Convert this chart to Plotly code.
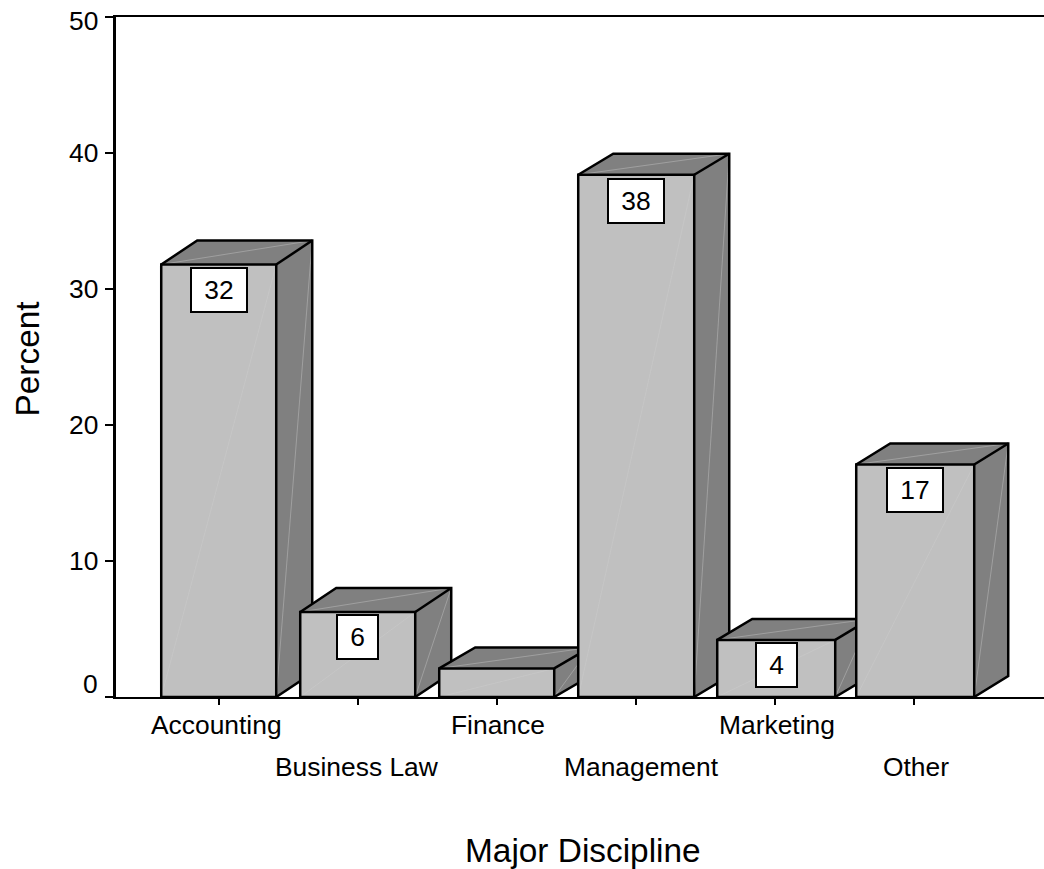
import plotly.graph_objects as go

# ---- data ----
categories = ["Accounting", "Business Law", "Finance", "Management", "Marketing", "Other"]
percent = [31.8, 6.25, 2.1, 38.4, 4.2, 17.1]
bar_labels = ["32", "6", None, "38", "4", "17"]
y_tick_values = [0, 10, 20, 30, 40, 50]
y_axis_title = "Percent"
x_axis_title = "Major Discipline"

# ---- style ----
W, H = 1044, 869
L, R, T, B = 116, 0, 17, 172
PX_X = 139.0
PX_Y = (H - T - B) / 50.0
X0 = -(218.5 - L) / PX_X
X1 = (W - 218.5) / PX_X
FRONT, DARK, DIAG = "#C0C0C0", "#808080", "#D0D0D0"
FONT = "Liberation Sans"
TICK_SIZE = 26.4
TITLE_SIZE = 33.4
BAR_PX = [115, 115, 115, 116, 118, 118]
DEPTH_X_PX = [36, 36, 36, 35, 35, 34]
DEPTH_Y_PX = [24, 24, 21, 21, 21, 21]
BOX_SHIFT_PX = [-2, -2, 0, -3, -2, -3]
LEFT_OFFSET = -0.412


def poly(fig, xs, ys, color):
    fig.add_trace(go.Scatter(x=xs + xs[:1], y=ys + ys[:1], mode="lines", fill="toself",
                             fillcolor=color, line=dict(width=0), hoverinfo="skip", showlegend=False))


fig = go.Figure()
for i, (name, v) in enumerate(zip(categories, percent)):
    x0 = i + LEFT_OFFSET
    x1 = x0 + BAR_PX[i] / PX_X
    dx = DEPTH_X_PX[i] / PX_X
    dy = DEPTH_Y_PX[i] / PX_Y
    poly(fig, [x1, x1 + dx, x1 + dx, x1], [0, dy, v + dy, v], DARK)
    poly(fig, [x0, x1, x1 + dx, x0 + dx], [v, v, v + dy, v + dy], DARK)
    poly(fig, [x0, x1, x1, x0], [0, 0, v, v], FRONT)
    # faint facet seams
    fig.add_trace(go.Scatter(
        x=[x0, x1, None, x1, x1 + dx, None, x0, x1 + dx],
        y=[0, v, None, 0, v + dy, None, v, v + dy],
        mode="lines", line=dict(color=DIAG, width=0.4), hoverinfo="skip", showlegend=False))
    # outlines
    fig.add_trace(go.Scatter(
        x=[x0, x0, x1, x1, x0, None, x0, x0 + dx, x1 + dx, x1 + dx, x1, None, x1, x1 + dx],
        y=[0, v, v, 0, 0, None, v, v + dy, v + dy, dy, 0, None, v, v + dy],
        mode="lines", line=dict(color="black", width=2.5), name=name, showlegend=False,
        hovertemplate=f"{name}: {v}<extra></extra>"))

annotations = []
# value boxes
for i, (v, lab) in enumerate(zip(percent, bar_labels)):
    if lab is None:
        continue
    bw = 54 if len(lab) == 2 else 39
    annotations.append(dict(
        x=i + LEFT_OFFSET + BAR_PX[i] / PX_X / 2, y=v, xref="x", yref="y", yshift=BOX_SHIFT_PX[i],
        yanchor="top", xanchor="center", text=lab, showarrow=False,
        width=bw, height=42, bgcolor="white", bordercolor="black", borderwidth=2, borderpad=0,
        align="center", valign="middle", font=dict(family=FONT, size=TICK_SIZE, color="black")))
# staggered category labels
for i, name in enumerate(categories):
    annotations.append(dict(
        x=i, y=0, xref="x", yref="y", yshift=-(28 if i % 2 == 0 else 70), xshift=[-2, -1, 1, 6, 2, 2][i],
        yanchor="middle", xanchor="center", text=name, showarrow=False,
        font=dict(family=FONT, size=TICK_SIZE, color="black")))
# y tick labels
for t in y_tick_values:
    annotations.append(dict(
        x=0, xref="paper", y=t, yref="y", xshift=-16, xanchor="right", yanchor="middle",
        yshift=13 if t == 0 else (-4 if t == 50 else 0), text=str(t), showarrow=False,
        font=dict(family=FONT, size=TICK_SIZE, color="black")))
# axis titles
annotations.append(dict(
    x=(583 - L) / (W - L), xref="paper", y=0, yref="paper", yshift=-153, xanchor="center", yanchor="middle",
    text=x_axis_title, showarrow=False, font=dict(family=FONT, size=TITLE_SIZE, color="black")))
annotations.append(dict(
    x=0, xref="paper", xshift=-(L - 27), y=(H - B - 358.5) / (H - T - B), yref="paper", xanchor="center",
    yanchor="middle", textangle=-90, text=y_axis_title, showarrow=False,
    font=dict(family=FONT, size=TITLE_SIZE, color="black")))

fig.update_layout(
    width=W, height=H, margin=dict(l=L, r=R, t=T, b=B, pad=0, autoexpand=False),
    paper_bgcolor="white", plot_bgcolor="white", showlegend=False,
    font=dict(family=FONT, color="black"),
    annotations=annotations,
    xaxis=dict(range=[X0, X1], tickmode="array", tickvals=list(range(len(categories))),
               showticklabels=False, ticks="outside", ticklen=6, tickwidth=2, tickcolor="black",
               showgrid=False, zeroline=False, showline=True, linecolor="black", linewidth=2, mirror=True),
    yaxis=dict(range=[0, 50], tickmode="array", tickvals=y_tick_values,
               showticklabels=False, ticks="outside", ticklen=8, tickwidth=2, tickcolor="black",
               showgrid=False, zeroline=False, showline=True, linecolor="black", linewidth=3),
)
fig.write_html("out.html", config=dict(displayModeBar=False),
               post_script="document.body.style.margin='0';")
